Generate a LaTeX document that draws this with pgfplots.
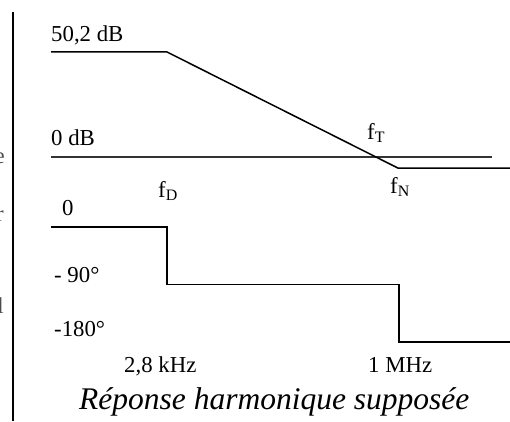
\documentclass[border=0pt]{standalone}
\usepackage{fontspec}
\setmainfont{Liberation Serif}
\usepackage{pgfplots}
\pgfplotsset{compat=1.18}

% Asymptotic Bode diagram (gain and phase) of the amplifier
\pgfplotstableread{
x    g
51   50.2
167  50.2
398  -5.3
510  -5.3
}\gaintable
\pgfplotstableread{
x    p
51   0
167  0
167  -90
399  -90
399  -180
510  -180
}\phasetable

\begin{document}
\begin{tikzpicture}[lbl/.style={font=\fontsize{22.8}{26}\selectfont, inner sep=0pt, anchor=base west}]
\useasboundingbox (0,0) rectangle (510pt,421pt);

% gain (dB)
\begin{axis}[at={(0pt,222.16pt)}, anchor=south west,
  width=510pt, height=167.36pt, scale only axis,
  xmin=0, xmax=510, ymin=-20, ymax=60,
  axis lines=none, clip=false]
  \addplot[black!80, line width=1.2pt] coordinates {(51,0) (492,0)};
  \addplot[black, line width=1.5pt] table[x=x, y=g] {\gaintable};
\end{axis}

% phase (degrees)
\begin{axis}[at={(0pt,40.9pt)}, anchor=south west,
  width=510pt, height=165.88pt, scale only axis,
  xmin=0, xmax=510, ymin=-240, ymax=20,
  axis lines=none, clip=false]
  \addplot[black, line width=1.5pt] table[x=x, y=p] {\phasetable};
\end{axis}

% margin rule
\draw[line width=1.6pt] (13pt,0pt) -- (13pt,409pt);

% labels
\node[lbl] at (51pt,379pt) {50,2 dB};
\node[lbl] at (51pt,276pt) {0 dB};
\node[lbl] at (62pt,206pt) {0};
\node[lbl] at (54pt,139pt) {- 90°};
\node[lbl] at (54pt,85pt) {-180°};
\node[lbl] at (124pt,49pt) {2,8 kHz};
\node[lbl] at (368pt,49pt) {1 MHz};
\node[lbl] at (158pt,224pt) {f\textsubscript{D}};
\node[lbl] at (367pt,282pt) {f\textsubscript{T}};
\node[lbl] at (390pt,228pt) {f\textsubscript{N}};
\node[inner sep=0pt, anchor=base west, font=\fontsize{31.5}{34}\itshape] at (79pt,12pt) {Réponse harmonique supposée};

% ends of the neighbouring text column
\node[lbl, anchor=base east, text=black!70] at (5pt,258pt) {e};
\node[lbl, anchor=base east, text=black!70] at (4pt,200pt) {r};
\node[lbl, anchor=base east, text=black!70] at (4pt,108pt) {l};
\end{tikzpicture}
\end{document}
